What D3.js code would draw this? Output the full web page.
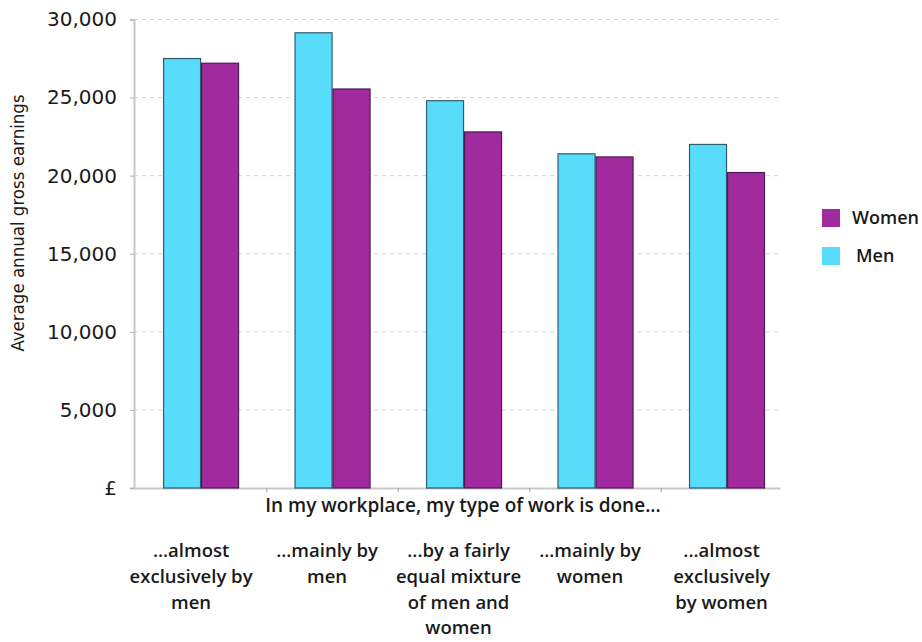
<!DOCTYPE html>
<html>
<head>
<meta charset="utf-8">
<script src="https://cdn.jsdelivr.net/npm/d3@7"></script>
<style>
  html, body { margin: 0; padding: 0; background: #fff; }
  svg { display: block; }
  text { font-family: "Open Sans", "DejaVu Sans", sans-serif; fill: #1a1a1a; }
</style>
</head>
<body>
<svg id="chart" width="922" height="642"></svg>
<script>
const categories = [
  "...almost exclusively by men",
  "...mainly by men",
  "...by a fairly equal mixture of men and women",
  "...mainly by women",
  "...almost exclusively by women"
];
const categoryLines = [
  ["...almost", "exclusively by", "men"],
  ["...mainly by", "men"],
  ["...by a fairly", "equal mixture", "of men and", "women"],
  ["...mainly by", "women"],
  ["...almost", "exclusively", "by women"]
];
const seriesNames = ["Men", "Women"];
const men = [27500, 29150, 24800, 21400, 22000];
const women = [27200, 25550, 22800, 21200, 20200];
const yTicks = [0, 5000, 10000, 15000, 20000, 25000, 30000];
const yTickLabels = ["£", "5,000", "10,000", "15,000", "20,000", "25,000", "30,000"];
const legendOrder = ["Women", "Men"];
const colors = { Men: "#57dcfb", Women: "#a12a9f" };
const strokes = { Men: "#2f5d6a", Women: "#4a1a55" };
const xTitle = "In my workplace, my type of work is done...";
const yTitle = "Average annual gross earnings";

(function () {
const svg = d3.select("#chart");
const mLeft = 134, mRight = 780, mTop = 19.5, mBottom = 488;

const x = d3.scaleBand().domain(categories).range([mLeft, mRight])
  .paddingInner(0.422).paddingOuter(0.1675).align(0.66);
const xs = d3.scaleBand().domain(seriesNames).range([0, x.bandwidth()]);
const y = d3.scaleLinear().domain([0, 30000]).range([mBottom, mTop]);

// gridlines
svg.append("g").selectAll("line").data(yTicks.filter(d => d > 0)).join("line")
  .attr("x1", mLeft).attr("x2", mRight)
  .attr("y1", d => y(d)).attr("y2", d => y(d))
  .attr("stroke", "#d4d4d4").attr("stroke-width", 1)
  .attr("stroke-dasharray", "4,4");

// y axis
const yAxis = d3.axisLeft(y).tickValues(yTicks)
  .tickFormat((d, i) => yTickLabels[i]).tickSize(4).tickPadding(13);
const gy = svg.append("g").attr("transform", `translate(${mLeft},0)`).call(yAxis);
gy.attr("font-family", null).attr("font-size", null);
gy.select(".domain").attr("stroke", "#c8c8c8").attr("stroke-width", 2);
gy.selectAll(".tick line").attr("stroke", "#b0b0b0");
gy.selectAll(".tick text").attr("font-size", 20).attr("fill", "#111")
  .style("font-family", "'DejaVu Sans', sans-serif");

// x baseline with ticks between groups
const xAxis = d3.axisBottom(x).tickSize(0).tickFormat("");
const gx = svg.append("g").attr("transform", `translate(0,${mBottom})`).call(xAxis);
gx.select(".domain").attr("stroke", "#c8c8c8").attr("stroke-width", 2);
const sep = categories.slice(1).map(c => x(c) - x.step() * x.paddingInner() / 2);
gx.selectAll(".sep").data(sep).join("line").attr("class", "sep")
  .attr("x1", d => d).attr("x2", d => d).attr("y1", 0).attr("y2", 4)
  .attr("stroke", "#a0a0a0");

// bars
const rows = categories.map((c, i) => ({ c, Men: men[i], Women: women[i] }));
const g = svg.append("g").selectAll("g").data(rows).join("g")
  .attr("transform", d => `translate(${x(d.c)},0)`);
g.selectAll("rect").data(d => seriesNames.map(s => ({ s, v: d[s] }))).join("rect")
  .attr("x", d => xs(d.s) + 0.5).attr("width", xs.bandwidth() - 1)
  .attr("y", d => y(d.v)).attr("height", d => y(0) - y(d.v))
  .attr("fill", d => colors[d.s]).attr("stroke", d => strokes[d.s]).attr("stroke-width", 1.2);

// x title
svg.append("text").attr("x", 463).attr("y", 512).attr("text-anchor", "middle")
  .attr("font-size", 19).attr("font-weight", 600).attr("fill", "#222")
  .text(xTitle);

// category labels
const cl = svg.append("g").selectAll("text").data(categories).join("text")
  .attr("text-anchor", "middle").attr("font-size", 18.5).attr("font-weight", 600).attr("fill", "#222")
  .attr("transform", (d, i) => `translate(${x(d) + x.bandwidth() / 2 - (i === 0 ? 10 : 5.5)},557)`);
cl.each(function(d, i) {
  d3.select(this).selectAll("tspan").data(categoryLines[i]).join("tspan")
    .attr("x", 0).attr("dy", (t, j) => j === 0 ? 0 : 25.8).text(t => t);
});

// y title
svg.append("text").attr("transform", "translate(24,223) rotate(-90)")
  .attr("text-anchor", "middle").attr("font-size", 18.5)
  .style("font-family", "'Liberation Sans Narrow', 'DejaVu Sans Condensed', sans-serif")
  .text(yTitle);

// legend
const lg = svg.append("g").selectAll("g").data(legendOrder).join("g")
  .attr("transform", (d, i) => `translate(822,${209 + i * 38})`);
lg.append("rect").attr("width", 18).attr("height", 18).attr("fill", d => colors[d]);
lg.append("text").attr("x", d => d === "Men" ? 34 : 30).attr("y", 15)
  .attr("font-size", 18).attr("font-weight", 600).attr("fill", "#222").text(d => d);
})();
</script>
</body>
</html>
